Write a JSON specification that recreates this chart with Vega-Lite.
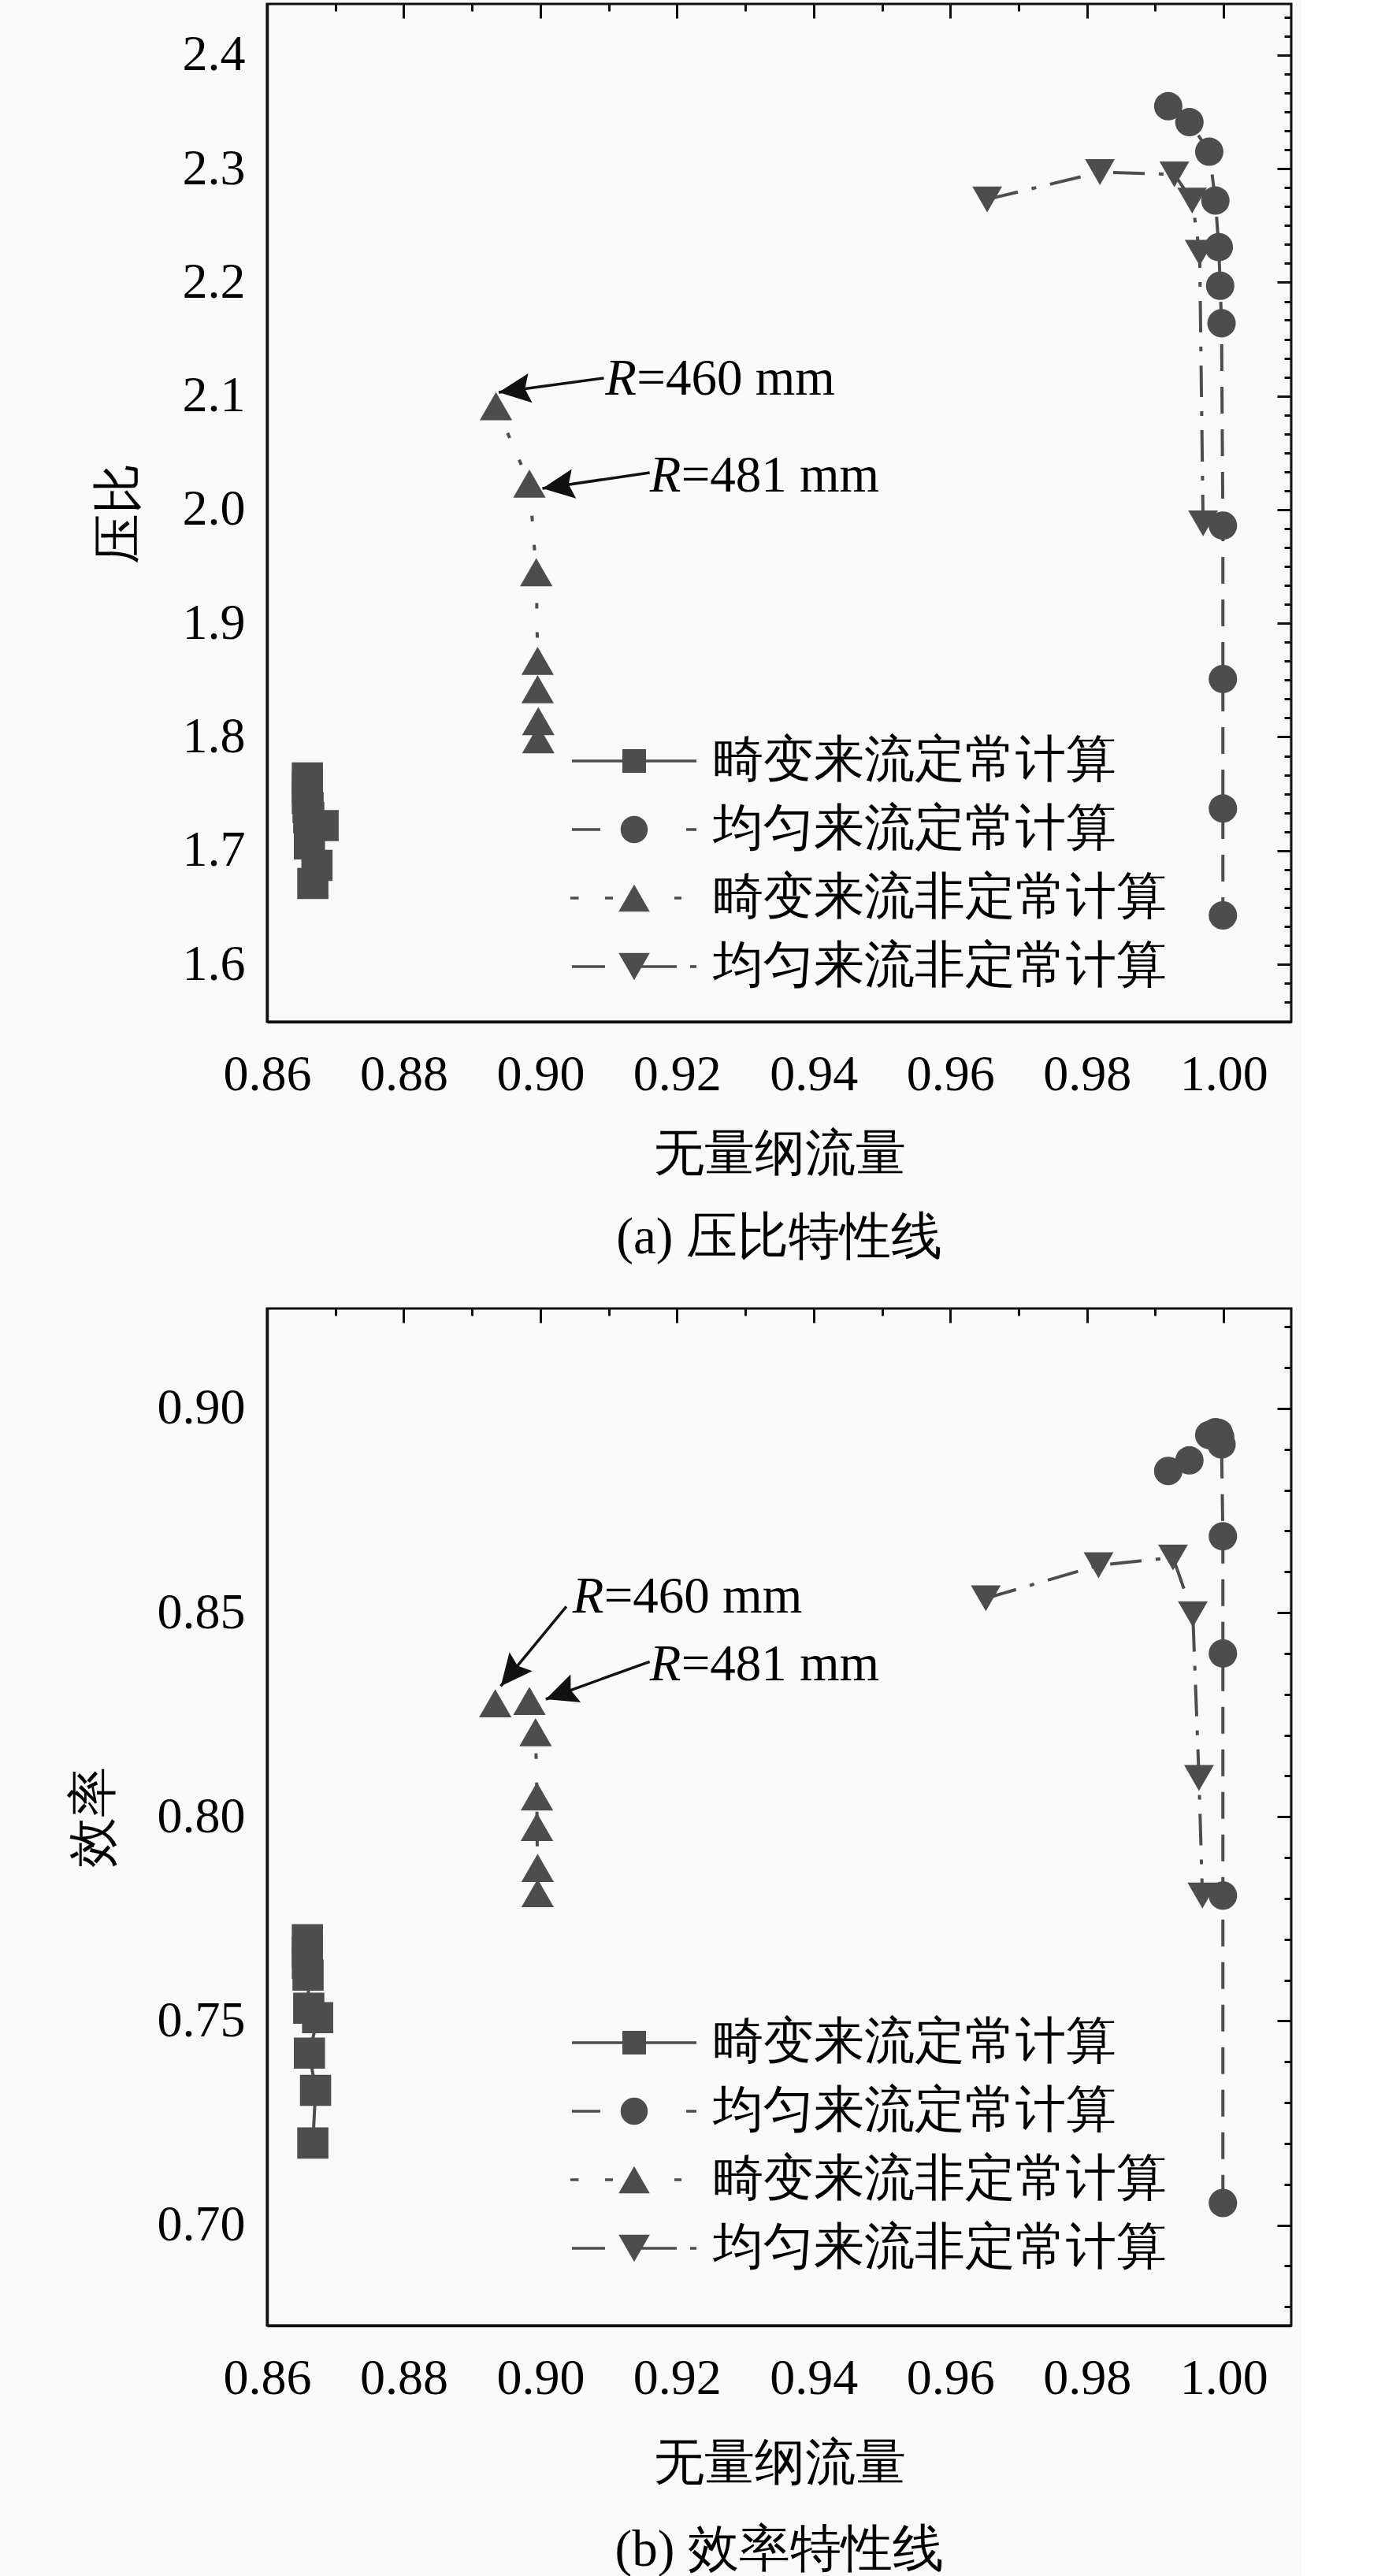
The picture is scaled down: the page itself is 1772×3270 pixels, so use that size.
{
  "$schema": "https://vega.github.io/schema/vega-lite/v6.json",
  "background": "#f9f9f9",
  "padding": {"left": 85, "top": 2, "right": 10, "bottom": 0},
  "spacing": 52,
  "config": {
    "font": "Liberation Serif",
    "view": {"stroke": "#111111", "strokeWidth": 3},
    "axis": {
      "grid": false,
      "labelFont": "Liberation Serif",
      "titleFont": "Liberation Serif",
      "labelFontSize": 64,
      "titleFontSize": 64,
      "titleFontWeight": "normal",
      "labelColor": "#000000",
      "titleColor": "#000000",
      "domainColor": "#111111",
      "tickColor": "#111111",
      "labelFlush": false,
      "labelOverlap": false,
      "labelBound": false
    },
    "title": {"font": "Liberation Serif", "fontSize": 65, "fontWeight": "normal", "color": "#000000"},
    "legend": {"labelFont": "Liberation Serif"}
  },
  "datasets": {
    "pr": [
      {"series": "畸变来流定常计算", "i": 1, "flow": 0.8659, "value": 1.764},
      {"series": "畸变来流定常计算", "i": 2, "flow": 0.8659, "value": 1.755},
      {"series": "畸变来流定常计算", "i": 3, "flow": 0.8659, "value": 1.746},
      {"series": "畸变来流定常计算", "i": 4, "flow": 0.8660, "value": 1.738},
      {"series": "畸变来流定常计算", "i": 5, "flow": 0.8661, "value": 1.729},
      {"series": "畸变来流定常计算", "i": 6, "flow": 0.8682, "value": 1.722},
      {"series": "畸变来流定常计算", "i": 7, "flow": 0.8662, "value": 1.706},
      {"series": "畸变来流定常计算", "i": 8, "flow": 0.8673, "value": 1.687},
      {"series": "畸变来流定常计算", "i": 9, "flow": 0.8667, "value": 1.671},
      {"series": "均匀来流定常计算", "i": 1, "flow": 0.9919, "value": 2.355},
      {"series": "均匀来流定常计算", "i": 2, "flow": 0.9950, "value": 2.341},
      {"series": "均匀来流定常计算", "i": 3, "flow": 0.9979, "value": 2.315},
      {"series": "均匀来流定常计算", "i": 4, "flow": 0.9988, "value": 2.272},
      {"series": "均匀来流定常计算", "i": 5, "flow": 0.9993, "value": 2.231},
      {"series": "均匀来流定常计算", "i": 6, "flow": 0.9995, "value": 2.197},
      {"series": "均匀来流定常计算", "i": 7, "flow": 0.9997, "value": 2.164},
      {"series": "均匀来流定常计算", "i": 8, "flow": 0.9999, "value": 1.986},
      {"series": "均匀来流定常计算", "i": 9, "flow": 0.9999, "value": 1.851},
      {"series": "均匀来流定常计算", "i": 10, "flow": 0.9999, "value": 1.737},
      {"series": "均匀来流定常计算", "i": 11, "flow": 0.9999, "value": 1.643},
      {"series": "畸变来流非定常计算", "i": 1, "flow": 0.8935, "value": 2.091},
      {"series": "畸变来流非定常计算", "i": 2, "flow": 0.8984, "value": 2.023},
      {"series": "畸变来流非定常计算", "i": 3, "flow": 0.8994, "value": 1.945},
      {"series": "畸变来流非定常计算", "i": 4, "flow": 0.8996, "value": 1.867},
      {"series": "畸变来流非定常计算", "i": 5, "flow": 0.8996, "value": 1.842},
      {"series": "畸变来流非定常计算", "i": 6, "flow": 0.8997, "value": 1.814},
      {"series": "畸变来流非定常计算", "i": 7, "flow": 0.8997, "value": 1.798},
      {"series": "均匀来流非定常计算", "i": 1, "flow": 0.9654, "value": 2.273},
      {"series": "均匀来流非定常计算", "i": 2, "flow": 0.9819, "value": 2.297},
      {"series": "均匀来流非定常计算", "i": 3, "flow": 0.9928, "value": 2.295},
      {"series": "均匀来流非定常计算", "i": 4, "flow": 0.9954, "value": 2.272},
      {"series": "均匀来流非定常计算", "i": 5, "flow": 0.9965, "value": 2.226},
      {"series": "均匀来流非定常计算", "i": 6, "flow": 0.9970, "value": 1.988}
    ],
    "eff": [
      {"series": "畸变来流定常计算", "i": 1, "flow": 0.8659, "value": 0.7699},
      {"series": "畸变来流定常计算", "i": 2, "flow": 0.8659, "value": 0.7670},
      {"series": "畸变来流定常计算", "i": 3, "flow": 0.8659, "value": 0.7641},
      {"series": "畸变来流定常计算", "i": 4, "flow": 0.8660, "value": 0.7612},
      {"series": "畸变来流定常计算", "i": 5, "flow": 0.8661, "value": 0.7531},
      {"series": "畸变来流定常计算", "i": 6, "flow": 0.8674, "value": 0.7508},
      {"series": "畸变来流定常计算", "i": 7, "flow": 0.8662, "value": 0.7421},
      {"series": "畸变来流定常计算", "i": 8, "flow": 0.8671, "value": 0.7330},
      {"series": "畸变来流定常计算", "i": 9, "flow": 0.8667, "value": 0.7201},
      {"series": "均匀来流定常计算", "i": 1, "flow": 0.9919, "value": 0.8847},
      {"series": "均匀来流定常计算", "i": 2, "flow": 0.9950, "value": 0.8873},
      {"series": "均匀来流定常计算", "i": 3, "flow": 0.9979, "value": 0.8935},
      {"series": "均匀来流定常计算", "i": 4, "flow": 0.9988, "value": 0.8942},
      {"series": "均匀来流定常计算", "i": 5, "flow": 0.9993, "value": 0.8940},
      {"series": "均匀来流定常计算", "i": 6, "flow": 0.9995, "value": 0.8930},
      {"series": "均匀来流定常计算", "i": 7, "flow": 0.9997, "value": 0.8912},
      {"series": "均匀来流定常计算", "i": 8, "flow": 0.9999, "value": 0.8687},
      {"series": "均匀来流定常计算", "i": 9, "flow": 0.9999, "value": 0.8400},
      {"series": "均匀来流定常计算", "i": 10, "flow": 0.9999, "value": 0.7807},
      {"series": "均匀来流定常计算", "i": 11, "flow": 0.9999, "value": 0.7054},
      {"series": "畸变来流非定常计算", "i": 1, "flow": 0.8934, "value": 0.8278},
      {"series": "畸变来流非定常计算", "i": 2, "flow": 0.8984, "value": 0.8284},
      {"series": "畸变来流非定常计算", "i": 3, "flow": 0.8993, "value": 0.8207},
      {"series": "畸变来流非定常计算", "i": 4, "flow": 0.8995, "value": 0.8050},
      {"series": "畸变来流非定常计算", "i": 5, "flow": 0.8995, "value": 0.7975},
      {"series": "畸变来流非定常计算", "i": 6, "flow": 0.8996, "value": 0.7875},
      {"series": "畸变来流非定常计算", "i": 7, "flow": 0.8996, "value": 0.7813},
      {"series": "均匀来流非定常计算", "i": 1, "flow": 0.9652, "value": 0.8535},
      {"series": "均匀来流非定常计算", "i": 2, "flow": 0.9817, "value": 0.8616},
      {"series": "均匀来流非定常计算", "i": 3, "flow": 0.9926, "value": 0.8635},
      {"series": "均匀来流非定常计算", "i": 4, "flow": 0.9955, "value": 0.8496},
      {"series": "均匀来流非定常计算", "i": 5, "flow": 0.9964, "value": 0.8095},
      {"series": "均匀来流非定常计算", "i": 6, "flow": 0.9969, "value": 0.7807}
    ],
    "ann_pr": [
      {"id": "a", "num": "=460 mm", "x": 0.9095, "y": 2.1012, "x0": 0.9093, "y0": 2.1158, "x1": 0.8939, "y1": 2.1033},
      {"id": "b", "num": "=481 mm", "x": 0.9160, "y": 2.0159, "x0": 0.9160, "y0": 2.0326, "x1": 0.9003, "y1": 2.0187}
    ],
    "ann_eff": [
      {"id": "a", "num": "=460 mm", "x": 0.9047, "y": 0.8500, "x0": 0.9038, "y0": 0.8515, "x1": 0.8942, "y1": 0.8320},
      {"id": "b", "num": "=481 mm", "x": 0.9160, "y": 0.8334, "x0": 0.9160, "y0": 0.8380, "x1": 0.9008, "y1": 0.8288}
    ]
  },
  "vconcat": [
    {
      "width": 1300,
      "height": 1292,
      "title": {"text": "(a) 压比特性线", "orient": "bottom", "offset": 43},
      "resolve": {"axis": {"x": "independent", "y": "independent"}, "scale": {"shape": "independent"}},
      "layer": [
        {
          "data": {"name": "pr"},
          "mark": {"type": "line", "strokeWidth": 4, "color": "#4d4d4d"},
          "encoding": {
            "x": {"field": "flow", "type": "quantitative", "scale": {"domain": [0.86, 1.0099], "nice": false, "zero": false},
              "axis": {"values": [0.86, 0.88, 0.90, 0.92, 0.94, 0.96, 0.98, 1.00], "format": ".2f", "ticks": false, "domain": true, "domainWidth": 3.5, "labelPadding": 35, "title": "无量纲流量", "titlePadding": 37}},
            "y": {"field": "value", "type": "quantitative", "scale": {"domain": [1.5494, 2.445], "nice": false, "zero": false},
              "axis": {"values": [1.6, 1.7, 1.8, 1.9, 2.0, 2.1, 2.2, 2.3, 2.4], "format": ".1f", "ticks": false, "domain": true, "domainWidth": 3.5, "labelPadding": 28, "title": "压比", "titlePadding": 48}},
            "detail": {"field": "series", "type": "nominal"},
            "order": {"field": "i", "type": "quantitative"},
            "strokeDash": {"field": "series", "type": "nominal", "legend": null,
              "scale": {"range": [[34, 20], [40, 18, 6, 18], [1, 0], [7, 30]]}}
          }
        },
        {
          "data": {"name": "pr"},
          "mark": {"type": "point", "filled": true, "opacity": 1, "color": "#4d4d4d", "strokeWidth": 0},
          "encoding": {
            "x": {"field": "flow", "type": "quantitative", "scale": {"domain": [0.86, 1.0099], "nice": false, "zero": false},
              "axis": {"values": [0.86, 0.88, 0.90, 0.92, 0.94, 0.96, 0.98, 1.00], "labels": false, "domain": false, "ticks": true, "tickSize": -18, "tickWidth": 3, "title": null}},
            "y": {"field": "value", "type": "quantitative", "scale": {"domain": [1.5494, 2.445], "nice": false, "zero": false},
              "axis": {"values": [1.6, 1.7, 1.8, 1.9, 2.0, 2.1, 2.2, 2.3, 2.4], "labels": false, "domain": false, "ticks": true, "tickSize": -18, "tickWidth": 3, "title": null}},
            "size": {"field": "series", "type": "nominal", "legend": null,
              "scale": {"range": [1300, 1700, 800, 1700]}},
            "shape": {"field": "series", "type": "nominal", "legend": null,
              "scale": {"range": ["circle", "triangle-down", "square", "triangle-up"]}}
          }
        },
        {
          "data": {"name": "pr"},
          "mark": {"type": "point", "filled": true, "opacity": 0, "color": "#4d4d4d", "strokeWidth": 0},
          "encoding": {
            "x": {"field": "flow", "type": "quantitative", "scale": {"domain": [0.86, 1.0099], "nice": false, "zero": false}, "axis": null},
            "y": {"field": "value", "type": "quantitative", "scale": {"domain": [1.5494, 2.445], "nice": false, "zero": false}, "axis": null},
            "shape": {"field": "series", "type": "nominal",
              "scale": {"domain": ["畸变来流定常计算", "均匀来流定常计算", "畸变来流非定常计算", "均匀来流非定常计算"],
                "range": ["M-5.27,-0.12H5.27V0.12H-5.27ZM-1,-1H1V1H-1Z", "M-5.27,-0.12H-2.87V0.12H-5.27ZM4.4,-0.12H5.27V0.12H4.4ZM-1.15,0C-1.15,-0.635,-0.635,-1.15,0,-1.15C0.635,-1.15,1.15,-0.635,1.15,0C1.15,0.635,0.635,1.15,0,1.15C-0.635,1.15,-1.15,0.635,-1.15,0Z", "M-5.4,-0.12H-4.7V0.12H-5.4ZM-2.47,-0.12H-1.8V0.12H-2.47ZM3.4,-0.12H4.0V0.12H3.4ZM0,-1.15L1.32,1.15H-1.32Z", "M-5.27,-0.12H-2.47V0.12H-5.27ZM0,-0.12H3.6V0.12H0ZM4.73,-0.12H5.27V0.12H4.73ZM0,1.15L-1.32,-1.15H1.32Z"]},
              "legend": {"orient": "none", "legendX": 434, "legendY": 929, "title": null, "symbolSize": 900, "labelFontSize": 64, "labelColor": "#000000", "labelOffset": 68, "rowPadding": 23, "labelLimit": 2000, "padding": 0, "symbolStrokeWidth": 0, "symbolOpacity": 1, "symbolFillColor": "#4d4d4d"}}
          }
        },
        {
          "data": {"name": "ann_pr"},
          "mark": {"type": "rule", "strokeWidth": 3.5, "color": "#111111"},
          "encoding": {
            "x": {"field": "x0", "type": "quantitative", "scale": {"domain": [0.86, 1.0099], "nice": false, "zero": false},
              "axis": {"values": [0.87, 0.89, 0.91, 0.93, 0.95, 0.97, 0.99], "labels": false, "domain": false, "ticks": true, "tickSize": -9, "tickWidth": 3, "title": null}},
            "y": {"field": "y0", "type": "quantitative", "scale": {"domain": [1.5494, 2.445], "nice": false, "zero": false},
              "axis": {"values": [1.5667, 1.5833, 1.6167, 1.6333, 1.65, 1.6667, 1.6833, 1.7167, 1.7333, 1.75, 1.7667, 1.7833, 1.8167, 1.8333, 1.85, 1.8667, 1.8833, 1.9167, 1.9333, 1.95, 1.9667, 1.9833, 2.0167, 2.0333, 2.05, 2.0667, 2.0833, 2.1167, 2.1333, 2.15, 2.1667, 2.1833, 2.2167, 2.2333, 2.25, 2.2667, 2.2833, 2.3167, 2.3333, 2.35, 2.3667, 2.3833, 2.4167, 2.4333], "labels": false, "domain": false, "ticks": true, "tickSize": -9, "tickWidth": 3, "title": null}},
            "x2": {"field": "x1"},
            "y2": {"field": "y1"}
          }
        },
        {
          "data": {"name": "ann_pr"},
          "transform": [{"filter": "datum.id === 'a'"}],
          "mark": {"type": "point", "filled": true, "opacity": 1, "color": "#111111", "strokeWidth": 0, "size": 2900, "angle": 262.35, "shape": "M0,0L0.7,1.5L0,1.25L-0.7,1.5Z"},
          "encoding": {
            "x": {"field": "x1", "type": "quantitative", "scale": {"domain": [0.86, 1.0099], "nice": false, "zero": false}, "axis": null},
            "y": {"field": "y1", "type": "quantitative", "scale": {"domain": [1.5494, 2.445], "nice": false, "zero": false}, "axis": null}
          }
        },
        {
          "data": {"name": "ann_pr"},
          "transform": [{"filter": "datum.id === 'b'"}],
          "mark": {"type": "point", "filled": true, "opacity": 1, "color": "#111111", "strokeWidth": 0, "size": 2900, "angle": 261.6, "shape": "M0,0L0.7,1.5L0,1.25L-0.7,1.5Z"},
          "encoding": {
            "x": {"field": "x1", "type": "quantitative", "scale": {"domain": [0.86, 1.0099], "nice": false, "zero": false}, "axis": null},
            "y": {"field": "y1", "type": "quantitative", "scale": {"domain": [1.5494, 2.445], "nice": false, "zero": false}, "axis": null}
          }
        },
        {
          "data": {"name": "ann_pr"},
          "mark": {"type": "text", "font": "Liberation Serif", "fontStyle": "italic", "fontSize": 65, "align": "left", "baseline": "alphabetic", "color": "#000000"},
          "encoding": {
            "x": {"field": "x", "type": "quantitative", "scale": {"domain": [0.86, 1.0099], "nice": false, "zero": false}, "axis": null},
            "y": {"field": "y", "type": "quantitative", "scale": {"domain": [1.5494, 2.445], "nice": false, "zero": false}, "axis": null},
            "text": {"value": "R"}
          }
        },
        {
          "data": {"name": "ann_pr"},
          "mark": {"type": "text", "font": "Liberation Serif", "fontSize": 65, "align": "left", "baseline": "alphabetic", "dx": 40, "color": "#000000"},
          "encoding": {
            "x": {"field": "x", "type": "quantitative", "scale": {"domain": [0.86, 1.0099], "nice": false, "zero": false}, "axis": null},
            "y": {"field": "y", "type": "quantitative", "scale": {"domain": [1.5494, 2.445], "nice": false, "zero": false}, "axis": null},
            "text": {"field": "num", "type": "nominal"}
          }
        }
      ]
    },
    {
      "width": 1300,
      "height": 1291,
      "title": {"text": "(b) 效率特性线", "orient": "bottom", "offset": 47},
      "resolve": {"axis": {"x": "independent", "y": "independent"}, "scale": {"shape": "independent"}},
      "layer": [
        {
          "data": {"name": "eff"},
          "mark": {"type": "line", "strokeWidth": 4, "color": "#4d4d4d"},
          "encoding": {
            "x": {"field": "flow", "type": "quantitative", "scale": {"domain": [0.86, 1.0099], "nice": false, "zero": false},
              "axis": {"values": [0.86, 0.88, 0.90, 0.92, 0.94, 0.96, 0.98, 1.00], "format": ".2f", "ticks": false, "domain": true, "domainWidth": 3.5, "labelPadding": 35, "title": "无量纲流量", "titlePadding": 44}},
            "y": {"field": "value", "type": "quantitative", "scale": {"domain": [0.6754, 0.9245], "nice": false, "zero": false},
              "axis": {"values": [0.70, 0.75, 0.80, 0.85, 0.90], "format": ".2f", "ticks": false, "domain": true, "domainWidth": 3.5, "labelPadding": 28, "title": "效率", "titlePadding": 48}},
            "detail": {"field": "series", "type": "nominal"},
            "order": {"field": "i", "type": "quantitative"},
            "strokeDash": {"field": "series", "type": "nominal", "legend": null,
              "scale": {"range": [[34, 20], [40, 18, 6, 18], [1, 0], [7, 30]]}}
          }
        },
        {
          "data": {"name": "eff"},
          "mark": {"type": "point", "filled": true, "opacity": 1, "color": "#4d4d4d", "strokeWidth": 0},
          "encoding": {
            "x": {"field": "flow", "type": "quantitative", "scale": {"domain": [0.86, 1.0099], "nice": false, "zero": false},
              "axis": {"values": [0.86, 0.88, 0.90, 0.92, 0.94, 0.96, 0.98, 1.00], "labels": false, "domain": false, "ticks": true, "tickSize": -18, "tickWidth": 3, "title": null}},
            "y": {"field": "value", "type": "quantitative", "scale": {"domain": [0.6754, 0.9245], "nice": false, "zero": false},
              "axis": {"values": [0.70, 0.75, 0.80, 0.85, 0.90], "labels": false, "domain": false, "ticks": true, "tickSize": -18, "tickWidth": 3, "title": null}},
            "size": {"field": "series", "type": "nominal", "legend": null,
              "scale": {"range": [1300, 1700, 800, 1700]}},
            "shape": {"field": "series", "type": "nominal", "legend": null,
              "scale": {"range": ["circle", "triangle-down", "square", "triangle-up"]}}
          }
        },
        {
          "data": {"name": "eff"},
          "mark": {"type": "point", "filled": true, "opacity": 0, "color": "#4d4d4d", "strokeWidth": 0},
          "encoding": {
            "x": {"field": "flow", "type": "quantitative", "scale": {"domain": [0.86, 1.0099], "nice": false, "zero": false}, "axis": null},
            "y": {"field": "value", "type": "quantitative", "scale": {"domain": [0.6754, 0.9245], "nice": false, "zero": false}, "axis": null},
            "shape": {"field": "series", "type": "nominal",
              "scale": {"domain": ["畸变来流定常计算", "均匀来流定常计算", "畸变来流非定常计算", "均匀来流非定常计算"],
                "range": ["M-5.27,-0.12H5.27V0.12H-5.27ZM-1,-1H1V1H-1Z", "M-5.27,-0.12H-2.87V0.12H-5.27ZM4.4,-0.12H5.27V0.12H4.4ZM-1.15,0C-1.15,-0.635,-0.635,-1.15,0,-1.15C0.635,-1.15,1.15,-0.635,1.15,0C1.15,0.635,0.635,1.15,0,1.15C-0.635,1.15,-1.15,0.635,-1.15,0Z", "M-5.4,-0.12H-4.7V0.12H-5.4ZM-2.47,-0.12H-1.8V0.12H-2.47ZM3.4,-0.12H4.0V0.12H3.4ZM0,-1.15L1.32,1.15H-1.32Z", "M-5.27,-0.12H-2.47V0.12H-5.27ZM0,-0.12H3.6V0.12H0ZM4.73,-0.12H5.27V0.12H4.73ZM0,1.15L-1.32,-1.15H1.32Z"]},
              "legend": {"orient": "none", "legendX": 434, "legendY": 900, "title": null, "symbolSize": 900, "labelFontSize": 64, "labelColor": "#000000", "labelOffset": 68, "rowPadding": 23, "labelLimit": 2000, "padding": 0, "symbolStrokeWidth": 0, "symbolOpacity": 1, "symbolFillColor": "#4d4d4d"}}
          }
        },
        {
          "data": {"name": "ann_eff"},
          "mark": {"type": "rule", "strokeWidth": 3.5, "color": "#111111"},
          "encoding": {
            "x": {"field": "x0", "type": "quantitative", "scale": {"domain": [0.86, 1.0099], "nice": false, "zero": false},
              "axis": {"values": [0.87, 0.89, 0.91, 0.93, 0.95, 0.97, 0.99], "labels": false, "domain": false, "ticks": true, "tickSize": -9, "tickWidth": 3, "title": null}},
            "y": {"field": "y0", "type": "quantitative", "scale": {"domain": [0.6754, 0.9245], "nice": false, "zero": false},
              "axis": {"values": [0.68, 0.69, 0.71, 0.72, 0.73, 0.74, 0.76, 0.77, 0.78, 0.79, 0.81, 0.82, 0.83, 0.84, 0.86, 0.87, 0.88, 0.89, 0.91, 0.92], "labels": false, "domain": false, "ticks": true, "tickSize": -9, "tickWidth": 3, "title": null}},
            "x2": {"field": "x1"},
            "y2": {"field": "y1"}
          }
        },
        {
          "data": {"name": "ann_eff"},
          "transform": [{"filter": "datum.id === 'a'"}],
          "mark": {"type": "point", "filled": true, "opacity": 1, "color": "#111111", "strokeWidth": 0, "size": 2900, "angle": 219.4, "shape": "M0,0L0.7,1.5L0,1.25L-0.7,1.5Z"},
          "encoding": {
            "x": {"field": "x1", "type": "quantitative", "scale": {"domain": [0.86, 1.0099], "nice": false, "zero": false}, "axis": null},
            "y": {"field": "y1", "type": "quantitative", "scale": {"domain": [0.6754, 0.9245], "nice": false, "zero": false}, "axis": null}
          }
        },
        {
          "data": {"name": "ann_eff"},
          "transform": [{"filter": "datum.id === 'b'"}],
          "mark": {"type": "point", "filled": true, "opacity": 1, "color": "#111111", "strokeWidth": 0, "size": 2900, "angle": 250, "shape": "M0,0L0.7,1.5L0,1.25L-0.7,1.5Z"},
          "encoding": {
            "x": {"field": "x1", "type": "quantitative", "scale": {"domain": [0.86, 1.0099], "nice": false, "zero": false}, "axis": null},
            "y": {"field": "y1", "type": "quantitative", "scale": {"domain": [0.6754, 0.9245], "nice": false, "zero": false}, "axis": null}
          }
        },
        {
          "data": {"name": "ann_eff"},
          "mark": {"type": "text", "font": "Liberation Serif", "fontStyle": "italic", "fontSize": 65, "align": "left", "baseline": "alphabetic", "color": "#000000"},
          "encoding": {
            "x": {"field": "x", "type": "quantitative", "scale": {"domain": [0.86, 1.0099], "nice": false, "zero": false}, "axis": null},
            "y": {"field": "y", "type": "quantitative", "scale": {"domain": [0.6754, 0.9245], "nice": false, "zero": false}, "axis": null},
            "text": {"value": "R"}
          }
        },
        {
          "data": {"name": "ann_eff"},
          "mark": {"type": "text", "font": "Liberation Serif", "fontSize": 65, "align": "left", "baseline": "alphabetic", "dx": 40, "color": "#000000"},
          "encoding": {
            "x": {"field": "x", "type": "quantitative", "scale": {"domain": [0.86, 1.0099], "nice": false, "zero": false}, "axis": null},
            "y": {"field": "y", "type": "quantitative", "scale": {"domain": [0.6754, 0.9245], "nice": false, "zero": false}, "axis": null},
            "text": {"field": "num", "type": "nominal"}
          }
        }
      ]
    }
  ],
  "resolve": {"scale": {"x": "independent", "y": "independent", "shape": "independent", "size": "independent", "strokeDash": "independent"}, "legend": {"shape": "independent"}}
}
